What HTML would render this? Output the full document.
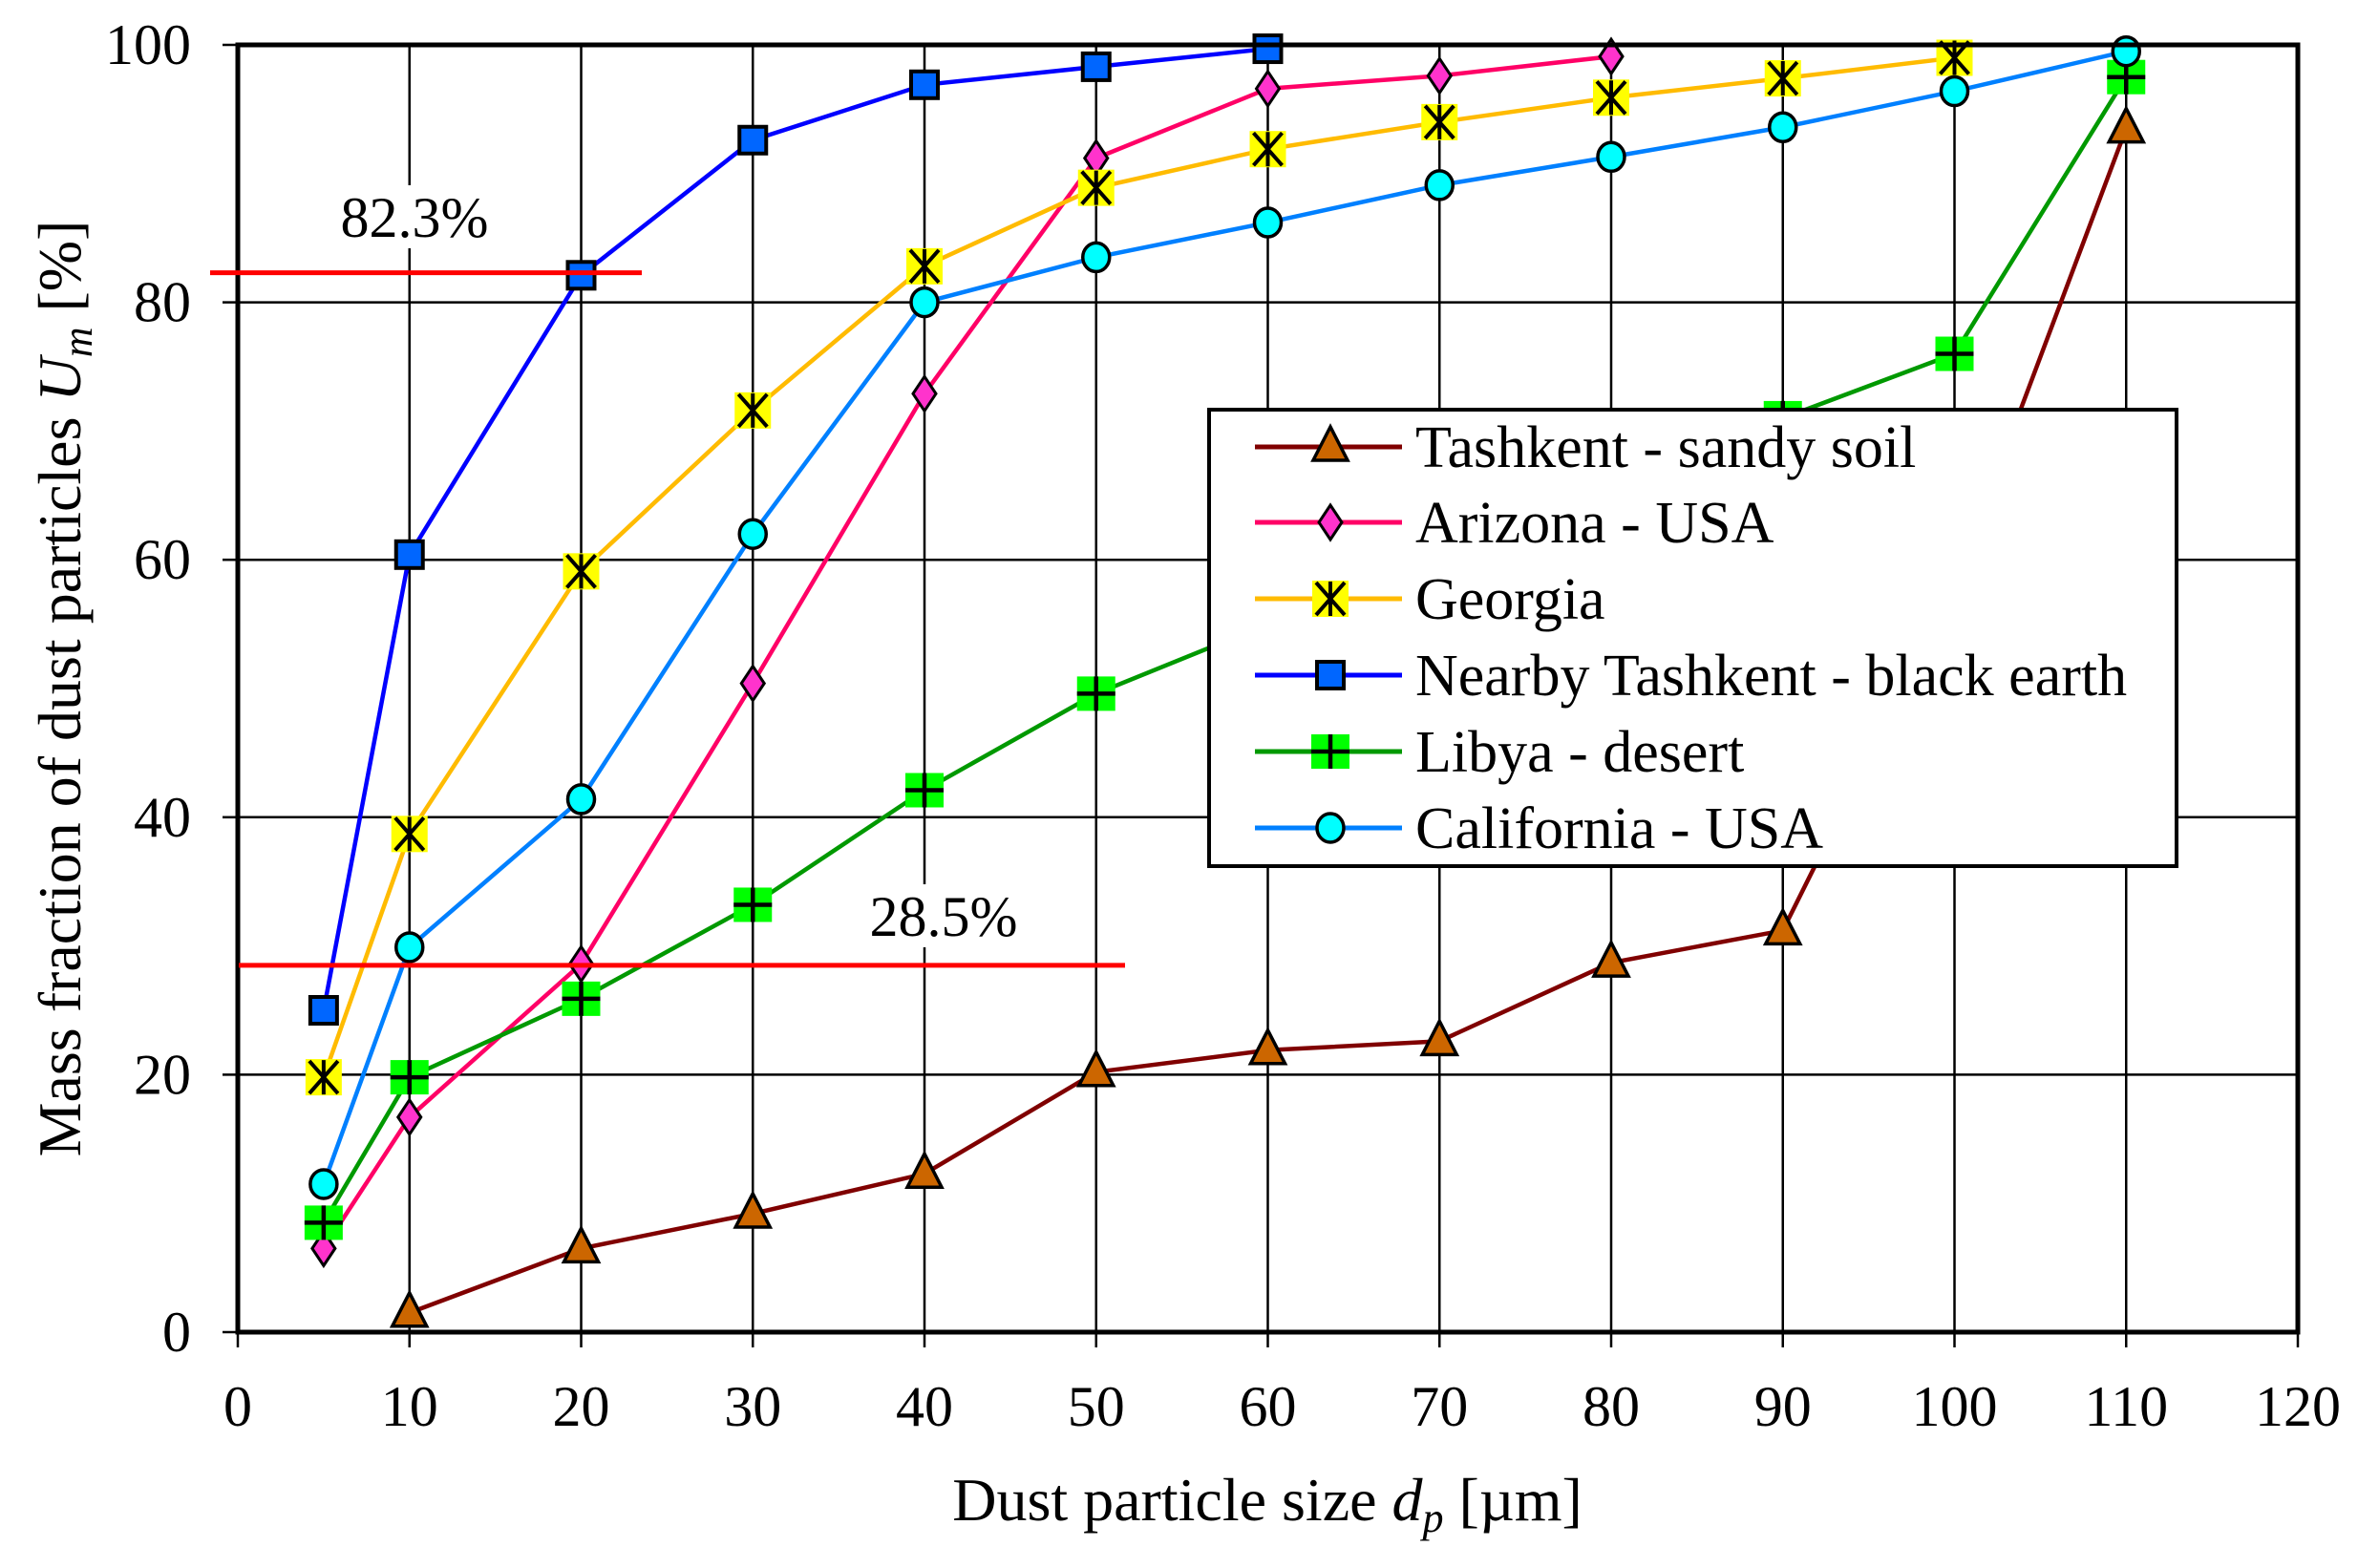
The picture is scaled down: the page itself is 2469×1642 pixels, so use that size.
<!DOCTYPE html>
<html><head><meta charset="utf-8"><style>
html,body{margin:0;padding:0;background:#fff;}
svg{display:block;font-family:"Liberation Serif",serif;}
</style></head><body>
<svg id="chart" width="2469" height="1642" viewBox="0 0 2469 1642" xmlns="http://www.w3.org/2000/svg">
<g id="grid"></g>
<g id="series"></g>
<g id="axes"></g>
<g id="legend"></g>
</svg>
<script>
const xTicks = [0,10,20,30,40,50,60,70,80,90,100,110,120];
const yTicks = [0,20,40,60,80,100];
const tashkentX = [10,20,30,40,50,60,70,80,90,100,110];
const tashkentY = [1.5,6.5,9.2,12.3,20.2,21.9,22.6,28.7,31.2,58,93.5];
const arizonaX = [5,10,20,30,40,50,60,70,80];
const arizonaY = [6.5,16.7,28.6,50.4,72.9,91.2,96.6,97.6,99.1];
const georgiaX = [5,10,20,30,40,50,60,70,80,90,100];
const georgiaY = [19.8,38.7,59.1,71.6,82.8,88.9,91.9,94.0,95.9,97.4,99.0];
const nearbyX = [5,10,20,30,40,50,60];
const nearbyY = [25,60.4,82.1,92.6,96.9,98.3,99.7];
const libyaX = [5,10,20,30,40,50,60,70,80,90,100,110];
const libyaY = [8.5,19.8,25.9,33.2,42.1,49.6,55,60,65,71,76,97.5];
const californiaX = [5,10,20,30,40,50,60,70,80,90,100,110];
const californiaY = [11.5,29.9,41.4,62.0,80.0,83.5,86.2,89.1,91.3,93.6,96.4,99.5];
const refLevels = [82.3,28.5];
const refLabels = ["82.3%","28.5%"];

const L=249,R=2406,T=47,B=1395;
const sx=v=>L+(v/120)*(R-L);
const sy=v=>B-(v/100)*(B-T);
const NS="http://www.w3.org/2000/svg";
function mk(tag,attrs,parent){const e=document.createElementNS(NS,tag);for(const k in attrs)e.setAttribute(k,attrs[k]);parent.appendChild(e);return e;}
const grid=document.getElementById('grid'),axes=document.getElementById('axes'),ser=document.getElementById('series'),leg=document.getElementById('legend');

xTicks.forEach(t=>{
 if(t>0&&t<120){const g=mk('line',{x1:sx(t),x2:sx(t),y1:T,y2:B,stroke:'#000','stroke-width':2.5},grid);
 
 }
 const tk=mk('line',{x1:sx(t),x2:sx(t),y1:B,y2:B+16,stroke:'#000','stroke-width':2.5},axes);
 
 
 const tx=mk('text',{x:sx(t),y:1493,'text-anchor':'middle','font-size':60},axes);tx.textContent=t;
 
 
});
yTicks.forEach(t=>{
 if(t>0&&t<100){const g=mk('line',{x1:L,x2:R,y1:sy(t),y2:sy(t),stroke:'#000','stroke-width':2.5},grid);
 
 }
 const tk=mk('line',{x1:L-16,x2:L,y1:sy(t),y2:sy(t),stroke:'#000','stroke-width':2.5},axes);
 
 
 const tx=mk('text',{x:200,y:sy(t)+20,'text-anchor':'end','font-size':60},axes);tx.textContent=t;
 
 
});
const fr=mk('rect',{x:L,y:T,width:R-L,height:B-T,fill:'none',stroke:'#000','stroke-width':5},axes);



const xt=mk('text',{x:1327,y:1592,'text-anchor':'middle','font-size':64},axes);


xt.innerHTML='Dust particle size <tspan font-style="italic">d</tspan><tspan font-style="italic" font-size="44" dy="12">p</tspan><tspan dy="-12"> [µm]</tspan>';
const yt=mk('text',{x:0,y:0,'text-anchor':'middle','font-size':64,transform:'translate(84,721) rotate(-90)'},axes);


yt.innerHTML='Mass fraction of dust particles <tspan font-style="italic">U</tspan><tspan font-style="italic" font-size="44" dy="12">m</tspan><tspan dy="-12"> [%]</tspan>';

const refX=[[220,672],[250,1178]];
const refLabelPos=[[434,248],[988,980]];
refLevels.forEach((v,i)=>{
 const l=mk('line',{x1:refX[i][0],x2:refX[i][1],y1:sy(v),y2:sy(v),stroke:'#ff0000','stroke-width':5},axes);
 
 
 const bg=mk('rect',{x:refLabelPos[i][0]-90,y:refLabelPos[i][1]-54,width:180,height:66,fill:'#fff'},axes);
 
 
 const t=mk('text',{x:refLabelPos[i][0],y:refLabelPos[i][1],'text-anchor':'middle','font-size':60},axes);t.textContent=refLabels[i];
 
 
});

function marker(type,x,y,p){
 let e;
 if(type==='tri'){e=mk('polygon',{points:`${x},${y-21} ${x-18},${y+14} ${x+18},${y+14}`,fill:'#cc6600',stroke:'#000','stroke-width':3.5},p);}
 else if(type==='dia'){e=mk('polygon',{points:`${x},${y-18} ${x+12},${y} ${x},${y+18} ${x-12},${y}`,fill:'#ff33cc',stroke:'#000','stroke-width':3},p);}
 else if(type==='star'){e=mk('g',{},p);mk('rect',{x:x-19,y:y-19,width:38,height:38,fill:'#ffff00'},e);
  mk('path',{d:`M${x-15},${y-17}L${x+15},${y+17}M${x+15},${y-17}L${x-15},${y+17}M${x},${y-18}L${x},${y+18}`,stroke:'#000','stroke-width':4},e);}
 else if(type==='sq'){e=mk('rect',{x:x-14,y:y-14,width:28,height:28,fill:'#0066ff',stroke:'#000','stroke-width':4},p);}
 else if(type==='plus'){e=mk('g',{},p);mk('rect',{x:x-20,y:y-18,width:40,height:36,fill:'#00ff00'},e);
  mk('path',{d:`M${x-20},${y}L${x+20},${y}M${x},${y-18}L${x},${y+18}`,stroke:'#000','stroke-width':4.5},e);}
 else {e=mk('ellipse',{cx:x,cy:y,rx:14,ry:15,fill:'#00ffff',stroke:'#000','stroke-width':3.5},p);}
 return e;
}
const series=[
 {n:'tashkent',X:tashkentX,Y:tashkentY,c:'#800000',m:'tri',label:'Tashkent - sandy soil'},
 {n:'arizona',X:arizonaX,Y:arizonaY,c:'#ff0066',m:'dia',label:'Arizona - USA'},
 {n:'georgia',X:georgiaX,Y:georgiaY,c:'#ffbb00',m:'star',label:'Georgia'},
 {n:'nearby-tashkent',X:nearbyX,Y:nearbyY,c:'#0000ff',m:'sq',label:'Nearby Tashkent - black earth'},
 {n:'libya',X:libyaX,Y:libyaY,c:'#009900',m:'plus',label:'Libya - desert'},
 {n:'california',X:californiaX,Y:californiaY,c:'#0080ff',m:'circ',label:'California - USA'}
];
series.forEach(s=>{
 const g=mk('g',{},ser);
 
 
 const pl=mk('polyline',{points:s.X.map((x,i)=>sx(x)+','+sy(s.Y[i])).join(' '),fill:'none',stroke:s.c,'stroke-width':4.5},g);
 
 
 s.X.forEach((x,i)=>{const m=marker(s.m,sx(x),sy(s.Y[i]),g);
  
  });
});
const lb=mk('rect',{x:1266,y:429,width:1013,height:478,fill:'#fff',stroke:'#000','stroke-width':4},leg);


const rowY=[468,547,627,707,787,867];
series.forEach((s,i)=>{
 const g=mk('g',{},leg);
 
 
 mk('line',{x1:1314,x2:1468,y1:rowY[i],y2:rowY[i],stroke:s.c,'stroke-width':5},g);
 marker(s.m,1393,rowY[i],g);
 const t=mk('text',{x:1482,y:rowY[i]+21,'font-size':62},g);t.textContent=s.label;
});
</script>
</body></html>
